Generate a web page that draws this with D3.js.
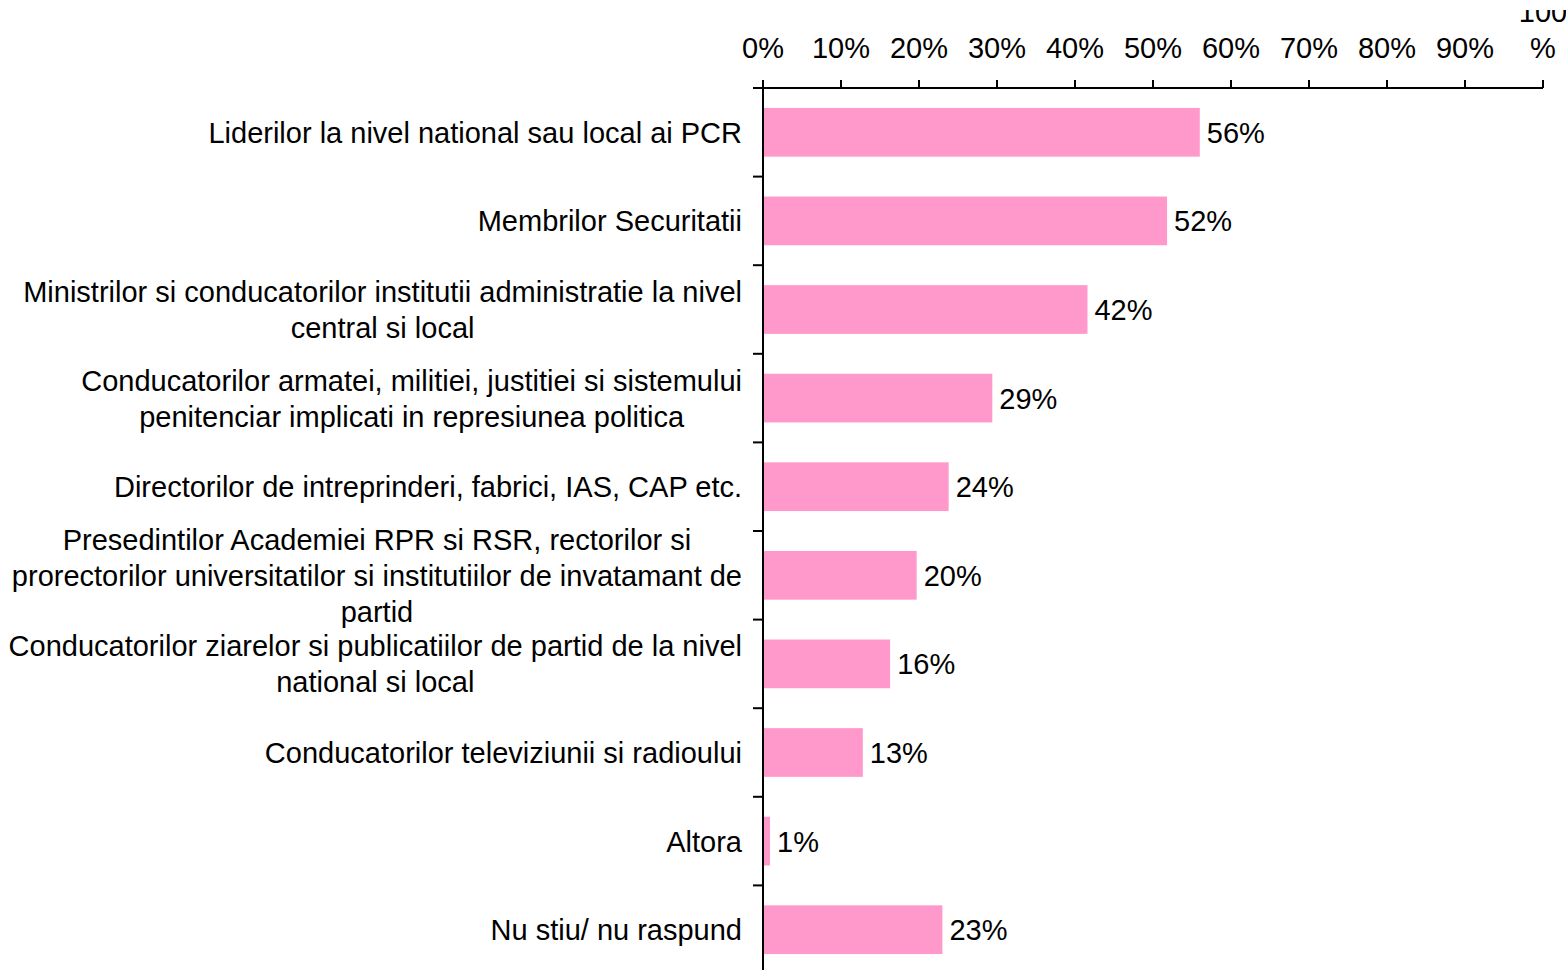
<!DOCTYPE html>
<html>
<head>
<meta charset="utf-8">
<script src="https://cdn.jsdelivr.net/npm/d3@7"></script>
<style>
  html, body { margin: 0; padding: 0; background: #fff; }
  svg { display: block; }
  text { font-family: "Liberation Sans", Arial, sans-serif; fill: #000; }
</style>
</head>
<body>
<svg id="chart" width="1566" height="970"></svg>
<script>
const categories = [
  ["Liderilor la nivel national sau local ai PCR"],
  ["Membrilor Securitatii"],
  ["Ministrilor si conducatorilor institutii administratie la nivel", "central si local"],
  ["Conducatorilor armatei, militiei, justitiei si sistemului", "penitenciar implicati in represiunea politica"],
  ["Directorilor de intreprinderi, fabrici, IAS, CAP etc."],
  ["Presedintilor Academiei RPR si RSR, rectorilor si", "prorectorilor universitatilor si institutiilor de invatamant de", "partid"],
  ["Conducatorilor ziarelor si publicatiilor de partid de la nivel", "national si local"],
  ["Conducatorilor televiziunii si radioului"],
  ["Altora"],
  ["Nu stiu/ nu raspund"]
];
const values = [56.0, 51.8, 41.6, 29.4, 23.8, 19.7, 16.3, 12.8, 0.9, 23.0];
const xTicks = [0, 10, 20, 30, 40, 50, 60, 70, 80, 90, 100];

const svg = d3.select("#chart");
const FS = 29, LH = 36;
const keys = categories.map((c, i) => i);

const x = d3.scaleLinear().domain([0, 100]).range([763, 1543]);
const y = d3.scaleBand().domain(keys).range([88, 974]).paddingInner(0.45).paddingOuter(0.225);

// clip for top labels (the reference shows the top strip empty)
svg.append("defs").append("clipPath").attr("id", "topclip")
  .append("rect").attr("x", 0).attr("y", 10).attr("width", 1566).attr("height", 960);

// bars
svg.append("g").selectAll("rect").data(values).join("rect")
  .attr("x", x(0))
  .attr("y", (d, i) => y(i))
  .attr("width", d => x(d) - x(0))
  .attr("height", y.bandwidth())
  .attr("fill", "#ff99cc");

// value labels
svg.append("g").selectAll("text").data(values).join("text")
  .attr("x", d => x(d) + 7)
  .attr("y", (d, i) => y(i) + y.bandwidth() / 2)
  .attr("dy", "0.36em")
  .attr("font-size", FS)
  .text(d => Math.round(d) + "%");

// top axis
const topAxis = svg.append("g");
topAxis.append("line").attr("x1", 753).attr("x2", x(100)).attr("y1", 88).attr("y2", 88)
  .attr("stroke", "#000").attr("stroke-width", 2);
topAxis.selectAll("line.tick").data(xTicks).join("line").attr("class", "tick")
  .attr("x1", d => x(d)).attr("x2", d => x(d)).attr("y1", 88).attr("y2", 80)
  .attr("stroke", "#000").attr("stroke-width", 2);
topAxis.append("g").attr("clip-path", "url(#topclip)")
  .selectAll("text").data(xTicks).join("text")
  .attr("text-anchor", "middle")
  .attr("font-size", FS)
  .each(function(d) {
    const t = d3.select(this);
    if (d === 100) {
      t.append("tspan").attr("x", x(d)).attr("y", 22).text("100");
      t.append("tspan").attr("x", x(d)).attr("y", 58).text("%");
    } else {
      t.append("tspan").attr("x", x(d)).attr("y", 58).text(d + "%");
    }
  });

// left axis
const step = y.step();
const bounds = d3.range(categories.length + 1).map(i => 88 + i * step);
svg.append("line").attr("x1", x(0)).attr("x2", x(0)).attr("y1", 88).attr("y2", 974)
  .attr("stroke", "#000").attr("stroke-width", 2);
svg.append("g").selectAll("line").data(bounds).join("line")
  .attr("x1", 753).attr("x2", x(0)).attr("y1", d => d).attr("y2", d => d)
  .attr("stroke", "#000").attr("stroke-width", 2);

// category labels (centered lines, block right-aligned)
const labG = svg.append("g");
categories.forEach((lines, i) => {
  const cy = y(i) + y.bandwidth() / 2;
  const g = labG.append("g");
  const texts = lines.map((ln, k) => g.append("text")
    .attr("font-size", FS)
    .attr("text-anchor", "middle")
    .attr("y", cy + (k - (lines.length - 1) / 2) * LH)
    .attr("dy", "0.36em")
    .text(ln));
  const maxW = d3.max(texts, t => t.node().getComputedTextLength());
  const cx = 742 - maxW / 2;
  texts.forEach(t => t.attr("x", cx));
});
</script>
</body>
</html>
